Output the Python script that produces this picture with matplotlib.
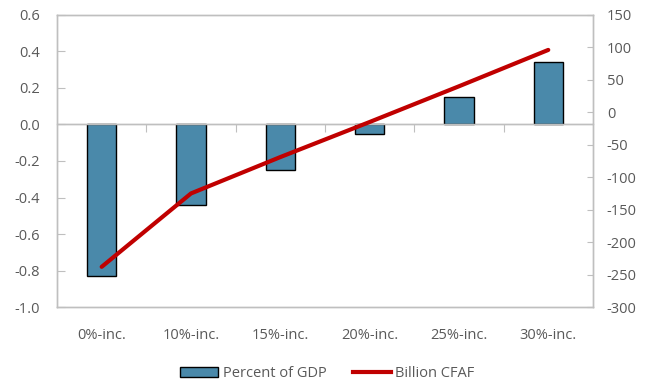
import matplotlib
matplotlib.use("Agg")
import matplotlib.pyplot as plt
import numpy as np
from matplotlib.patches import Patch
from matplotlib.lines import Line2D

categories = ["0%-inc.", "10%-inc.", "15%-inc.", "20%-inc.", "25%-inc.", "30%-inc."]
pct_gdp = [-0.83, -0.44, -0.25, -0.05, 0.15, 0.34]
billion_cfaf = [-238, -125, -69, -15, 40, 96]

left_ticks = [0.6, 0.4, 0.2, 0.0, -0.2, -0.4, -0.6, -0.8, -1.0]
right_ticks = [150, 100, 50, 0, -50, -100, -150, -200, -250, -300]

plt.rcParams["font.family"] = ["Open Sans", "DejaVu Sans"]
text_color = "#595959"
spine_color = "#BFBFBF"
bar_color = "#4A89AA"
line_color = "#C00000"

fig = plt.figure(figsize=(6.48, 3.81), dpi=100)
ax = fig.add_axes([0.088, 0.194, 0.827, 0.767])
x = np.arange(len(categories))

ax.bar(x, pct_gdp, width=0.33, color=bar_color, edgecolor="black", linewidth=1.0, zorder=3)
ax.axhline(0, color=spine_color, linewidth=1.0, zorder=4)
ax.set_xlim(-0.5, len(categories) - 0.5)
ax.set_ylim(-1.0, 0.6)
ax.set_yticks(left_ticks)
ax.set_yticklabels([f"{v:.1f}" for v in left_ticks])
ax.set_xticks(x)
ax.set_xticklabels(categories)
ax.tick_params(axis="x", length=0, pad=15, labelsize=10.5, colors=text_color)
ax.tick_params(axis="y", direction="in", length=6, width=0.8, color=spine_color,
               labelsize=10.5, labelcolor=text_color, pad=12)
for s in ax.spines.values():
    s.set_color(spine_color)
    s.set_linewidth(1.0)

# category separators on the zero line
y0, y1 = ax.get_ylim()
zero_frac = (0 - y0) / (y1 - y0)
sec = ax.secondary_xaxis(zero_frac)
sec.set_xticks(np.arange(0.5, len(categories) - 0.5, 1.0))
sec.tick_params(direction="in", length=6, width=0.8, color=spine_color, labelbottom=False, labeltop=False)
sec.set_xticklabels([])
for s in sec.spines.values():
    s.set_color(spine_color)
    s.set_linewidth(1.0)

ax2 = ax.twinx()
ax2.plot(x, billion_cfaf, color=line_color, linewidth=3, solid_capstyle="round", zorder=4)
ax2.set_ylim(-300, 150)
ax2.set_yticks(right_ticks)
ax2.set_yticklabels([str(v) for v in right_ticks])
ax2.tick_params(axis="y", direction="in", length=4, width=0.8, color=spine_color,
                labelsize=10.5, labelcolor=text_color, pad=10)
for s in ax2.spines.values():
    s.set_color(spine_color)
    s.set_linewidth(1.0)

handles = [Patch(facecolor=bar_color, edgecolor="black", linewidth=1.0),
           Line2D([0], [0], color=line_color, linewidth=3)]
fig.legend(handles, ["Percent of GDP", "Billion CFAF"], loc="lower center",
           bbox_to_anchor=(0.505, -0.035), ncol=2, frameon=False, fontsize=10.5,
           labelcolor=text_color, handlelength=2.6, handleheight=0.6,
           columnspacing=1.8, handletextpad=0.3)

fig.savefig("out.png", dpi=100)
